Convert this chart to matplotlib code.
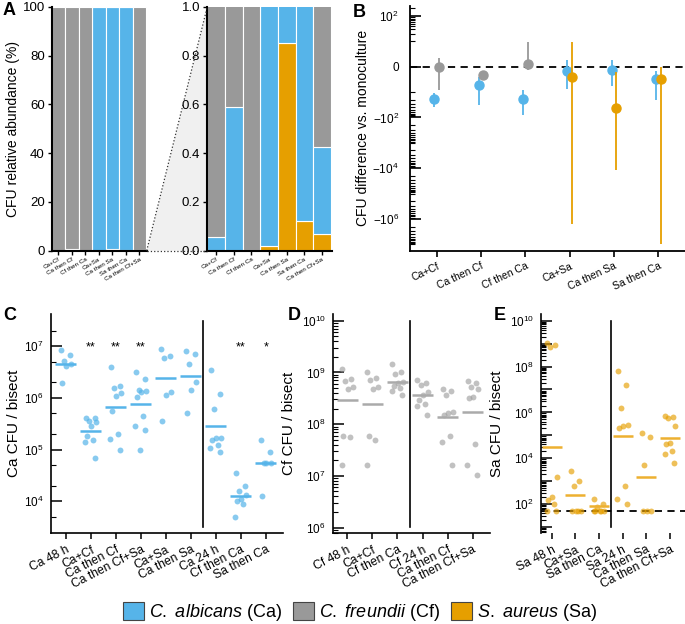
import numpy as np
import matplotlib
matplotlib.use('Agg')
import matplotlib.pyplot as plt
from matplotlib.patches import Patch, Polygon
from matplotlib.lines import Line2D
from matplotlib.ticker import FixedLocator, FuncFormatter, LogLocator, NullFormatter, FixedFormatter

plt.rcParams['font.family'] = ['Liberation Sans', 'DejaVu Sans']
plt.rcParams['mathtext.fontset'] = 'custom'
plt.rcParams['mathtext.rm'] = 'Liberation Sans'
plt.rcParams['mathtext.it'] = 'Liberation Sans:italic'
plt.rcParams['mathtext.bf'] = 'Liberation Sans:bold'

BLUE = '#56B4E9'
GRAY = '#999999'
ORANGE = '#E69F00'

# ---------------- data ----------------
# Panel A : relative abundance (%)
a_categories = ['Ca+Cf', 'Ca then Cf', 'Cf then Ca', 'Ca+Sa', 'Ca then Sa', 'Sa then Ca', 'Ca then Cf+Sa']
a_sa_pct = [0.0, 0.0, 0.0, 0.02, 0.85, 0.12, 0.07]
a_ca_pct = [0.057, 0.59, 0.003, 99.98, 99.15, 99.88, 0.355]
a_cf_pct = [99.943, 99.41, 99.997, 0.0, 0.0, 0.0, 99.575]

# Panel B : CFU difference vs monoculture
b_categories = ['Ca+Cf', 'Ca then Cf', 'Cf then Ca', 'Ca+Sa', 'Ca then Sa', 'Sa then Ca']
b_ca_mid = [-19.5, -7.2, -19.5, -1.6, -1.3, -4.9]
b_ca_lo = [-40, -32, -81, -8.6, -7.6, -21]
b_ca_hi = [-11, -3.9, -9.2, 2.6, 2.6, -1.6]
b_partner = ['Cf', 'Cf', 'Cf', 'Sa', 'Sa', 'Sa']
b_partner_mid = [0.0, -3.3, 1.05, -3.9, -41.6, -5.0]
b_partner_lo = [-9.2, -5.3, -1.3, -1.6e6, -1.2e4, -9.4e6]
b_partner_hi = [3.3, -1.8, 9.8, 9.9, -2.0, 0.0]

# Panel C : Ca CFU / bisect
c_categories = ['Ca 48 h', 'Ca+Cf', 'Ca then Cf', 'Ca then Cf+Sa', 'Ca+Sa', 'Ca then Sa',
                'Ca 24 h', 'Cf then Ca', 'Sa then Ca']
c_values = [
    [8.4e6, 6.7e6, 5.2e6, 4.5e6, 4.2e6, 1.9e6],
    [4e5, 4e5, 3.6e5, 3.4e5, 2.8e5, 1.8e5, 1.55e5, 1.4e5, 7e4],
    [4e6, 1.7e6, 1.55e6, 1.25e6, 1.1e6, 5.6e5, 2e5, 1.6e5, 1e5],
    [3.2e6, 2.3e6, 1.45e6, 1.35e6, 1.3e6, 1.05e6, 4.5e5, 2.8e5, 2.4e5, 1e5],
    [9e6, 6.5e6, 6e6, 1.3e6, 1.15e6, 3.5e5],
    [8e6, 7e6, 4.5e6, 2e6, 1.45e6, 5e5],
    [3.5e6, 1.2e6, 6e5, 1.7e5, 1.65e5, 1.5e5, 1.2e5, 1.05e5, 9e4],
    [3.5e4, 2e4, 1.6e4, 1.3e4, 1.1e4, 1e4, 9e3, 5e3],
    [1.5e5, 9e4, 5.6e4, 5.5e4, 5.4e4, 1.25e4],
]
c_medians = [4.6e6, 2.3e5, 6.7e5, 7.6e5, 2.4e6, 2.6e6, 2.9e5, 1.26e4, 5.6e4]
c_signif = ['', '**', '**', '**', '', '', '', '**', '*']

# Panel D : Cf CFU / bisect
d_categories = ['Cf 48 h', 'Ca+Cf', 'Cf then Ca', 'Cf 24 h', 'Ca then Cf', 'Ca then Cf+Sa']
d_values = [
    [1.15e9, 7.4e8, 6.9e8, 5.2e8, 4.7e8, 5.8e7, 5.6e7, 1.6e7],
    [1e9, 7.7e8, 7.2e8, 5.2e8, 4.7e8, 5.8e7, 5e7, 1.6e7],
    [1.45e9, 1e9, 9.3e8, 6.6e8, 6.2e8, 5.4e8, 5e8, 4.3e8, 3.7e8],
    [7.2e8, 6.2e8, 5.7e8, 4.2e8, 3.7e8, 2.9e8, 2.5e8, 2.2e8, 1.5e8],
    [4.7e8, 4.3e8, 3.6e8, 1.75e8, 1.65e8, 1.5e8, 5.8e7, 4.6e7, 1.6e7],
    [6.9e8, 6.2e8, 5.2e8, 4.7e8, 3.4e8, 3.2e8, 4.2e7, 1.6e7, 1.05e7],
]
d_medians = [2.9e8, 2.5e8, 6.6e8, 3.6e8, 1.35e8, 1.75e8]

# Panel E : Sa CFU / bisect
e_categories = ['Sa 48 h', 'Ca+Sa', 'Sa then Ca', 'Sa 24 h', 'Ca then Sa', 'Ca then Cf+Sa']
e_values = [
    [1.1e9, 9e8, 7e8, 1.5e3, 2e2, 1.5e2, 1e2, 50, 50],
    [2.7e3, 1e3, 6.5e2, 50, 50, 50, 50],
    [1.7e2, 1e2, 72, 50, 50, 50, 50, 50],
    [6.7e7, 1.6e7, 1.5e6, 2.9e5, 2.5e5, 2e5, 6e2, 1.6e2, 1e2],
    [1.3e5, 8.5e4, 5.2e3, 50, 50, 50],
    [6.9e5, 6.3e5, 5.8e5, 2.5e5, 4.7e4, 4.3e4, 2e4, 1.6e4, 6.5e3],
]
e_medians = [3e4, 2.6e2, 82, 9e4, 1.5e3, 7.6e4]
e_detection_limit = 50

# ---------------- figure ----------------
W, H = 685, 624
fig = plt.figure(figsize=(W / 100, H / 100), dpi=100)


def ax_px(l, t, r, b):
    return fig.add_axes([l / W, 1 - b / H, (r - l) / W, (b - t) / H])


def clean(ax, lw=1.2):
    ax.spines['top'].set_visible(False)
    ax.spines['right'].set_visible(False)
    ax.spines['left'].set_linewidth(lw)
    ax.spines['bottom'].set_linewidth(lw)


# ---- Panel A
axA1 = ax_px(51.7, 6.7, 146.7, 250.7)
axA2 = ax_px(207.3, 6.7, 331.7, 250.7)
xa = np.arange(len(a_categories))
sa = np.array(a_sa_pct)
ca = np.array(a_ca_pct)
cf = np.array(a_cf_pct)
for ax in (axA1, axA2):
    ax.bar(xa, sa, width=1.0, color=ORANGE, edgecolor='white', linewidth=0.8)
    ax.bar(xa, ca, bottom=sa, width=1.0, color=BLUE, edgecolor='white', linewidth=0.8)
    ax.bar(xa, cf, bottom=sa + ca, width=1.0, color=GRAY, edgecolor='white', linewidth=0.8)
    ax.set_xlim(-0.5, 6.55)
    ax.set_xticks(xa)
    ax.set_xticklabels(a_categories, rotation=30, ha='right', rotation_mode='anchor', fontsize=4.5)
    ax.tick_params(axis='x', direction='out', length=3, width=1, pad=1.5)
    ax.tick_params(axis='y', direction='out', length=3, width=1, labelsize=9.5, pad=2)
    clean(ax, 1.5)
axA1.set_ylim(0, 100)
axA1.set_yticks([0, 20, 40, 60, 80, 100])
axA2.set_ylim(0, 1)
axA2.set_yticks([0, 0.2, 0.4, 0.6, 0.8, 1.0])
axA2.yaxis.set_major_formatter(FuncFormatter(lambda v, p: f'{v:.1f}'))
axA1.set_ylabel('CFU relative abundance (%)', fontsize=10)
axA1.yaxis.set_label_coords(-0.335, 0.5)

p1 = axA1.get_position()
p2 = axA2.get_position()
tri = Polygon([(p1.x1, p1.y0), (p2.x0, p2.y1), (p2.x0, p2.y0)], closed=True,
              transform=fig.transFigure, facecolor='#f0f0f0', edgecolor='none', zorder=-1)
fig.add_artist(tri)
fig.add_artist(Line2D([p1.x1, p2.x0], [p1.y0, p2.y1], transform=fig.transFigure,
                      ls=':', color='#333333', lw=0.9))
fig.add_artist(Line2D([p1.x1, p2.x0], [p1.y0, p1.y0], transform=fig.transFigure,
                      ls=':', color='#333333', lw=0.9))

# ---- Panel B
axB = ax_px(410, 6, 685, 250.7)
axB.set_yscale('symlog', linthresh=10, linscale=0.9)
axB.set_ylim(-1.8e7, 250)
xb = np.arange(len(b_categories))
axB.set_xlim(-0.6, 5.6)
axB.axhline(0, color='black', lw=1.3, ls=(0, (4, 3)), zorder=0)
mid = np.array(b_ca_mid)
axB.errorbar(xb - 0.05, mid, yerr=[mid - np.array(b_ca_lo), np.array(b_ca_hi) - mid],
             fmt='o', color=BLUE, ms=6.5, elinewidth=1.3, capsize=0, zorder=3)
pmid = np.array(b_partner_mid)
plo = np.array(b_partner_lo)
phi = np.array(b_partner_hi)
for sp, col in (('Cf', GRAY), ('Sa', ORANGE)):
    m = np.array([p == sp for p in b_partner])
    axB.errorbar(xb[m] + 0.05, pmid[m], yerr=[pmid[m] - plo[m], phi[m] - pmid[m]],
                 fmt='o', color=col, ms=6.5, elinewidth=1.3, capsize=0, zorder=4)
b_major = [-1e6, -1e4, -1e2, 0, 1e2]
axB.yaxis.set_major_locator(FixedLocator(b_major))
axB.yaxis.set_major_formatter(FixedFormatter([r'$-10^6$', r'$-10^4$', r'$-10^2$', '0', r'$10^2$']))
minor = []
for n in range(1, 8):
    for k in range(1, 10):
        v = k * 10.0 ** n
        if v <= 250 and v not in b_major:
            minor.append(v)
        if v <= 1.8e7 and -v not in b_major:
            minor.append(-v)
axB.yaxis.set_minor_locator(FixedLocator(minor))
axB.tick_params(axis='y', which='major', direction='in', length=8, width=1.2, labelsize=8.5, pad=8)
axB.tick_params(axis='y', which='minor', direction='in', length=3.5, width=0.8)
axB.set_xticks(xb)
axB.set_xticklabels(b_categories, rotation=25, ha='right', rotation_mode='anchor', fontsize=7.5)
axB.tick_params(axis='x', direction='out', length=4, width=1.2)
axB.set_ylabel('CFU difference vs. monoculture', fontsize=10)
axB.yaxis.set_label_coords(-0.145, 0.5)
clean(axB, 1.3)


# ---- Panels C, D, E
jit = [-0.2, 0.15, -0.08, 0.22, 0.02, -0.15, 0.1, -0.22, 0.18, -0.03]


def log_axis(ax, ylim, subs, every=1):
    ax.set_yscale('log')
    ax.set_ylim(*ylim)
    ax.yaxis.set_major_locator(LogLocator(base=10, numticks=30))
    ax.yaxis.set_minor_locator(LogLocator(base=10, subs=subs, numticks=30))

    def fmt(v, p):
        e = int(round(np.log10(v)))
        if e % every:
            return ''
        return r'$10^{%d}$' % e
    ax.yaxis.set_major_formatter(FuncFormatter(fmt))
    ax.yaxis.set_minor_formatter(NullFormatter())
    ax.tick_params(axis='y', which='major', direction='in', length=8, width=1.1, labelsize=8.5, pad=5)
    ax.tick_params(axis='y', which='minor', direction='in', length=3.5, width=0.8)


def dots(ax, cats, values, medians, color, mcolor, alpha):
    for i, vals in enumerate(values):
        xs = [i + jit[j % len(jit)] for j in range(len(vals))]
        ax.scatter(xs, vals, s=18, color=color, alpha=alpha, linewidths=0, zorder=3)
        ax.hlines(medians[i], i - 0.42, i + 0.42, color=mcolor, lw=1.8, zorder=4)
    ax.set_xticks(range(len(cats)))
    ax.set_xticklabels(cats, rotation=27, ha='right', rotation_mode='anchor', fontsize=8.7)
    ax.tick_params(axis='x', direction='out', length=4, width=1.1)
    clean(ax, 1.2)


axC = ax_px(50.7, 314, 283, 533.3)
log_axis(axC, (2.4e3, 4.2e7), (2.0, 5.0))
dots(axC, c_categories, c_values, c_medians, BLUE, BLUE, 0.7)
axC.set_xlim(-0.61, 8.68)
axC.axvline(5.5, ymin=0.03, ymax=0.97, color='black', lw=1.2)
for i, s in enumerate(c_signif):
    if s:
        axC.text(i, 8.4e6, s, ha='center', va='baseline', fontsize=9)
axC.set_ylabel('Ca CFU / bisect', fontsize=11)
axC.yaxis.set_label_coords(-0.128, 0.5)

axD = ax_px(332.7, 314, 490, 533.3)
log_axis(axD, (10 ** 5.89, 10 ** 10.13), np.arange(2, 10))
dots(axD, d_categories, d_values, d_medians, GRAY, '#aaaaaa', 0.6)
axD.set_xlim(-0.58, 5.69)
axD.axvline(2.5, ymin=0.03, ymax=0.97, color='black', lw=1.2)
axD.set_ylabel('Cf CFU / bisect', fontsize=11)
axD.yaxis.set_label_coords(-0.236, 0.5)

axE = ax_px(540.7, 314, 685, 533.3)
log_axis(axE, (10 ** 0.73, 10 ** 10.29), np.arange(2, 10), every=2)
dots(axE, e_categories, e_values, e_medians, ORANGE, '#EDB030', 0.65)
axE.spines['bottom'].set_visible(False)
axE.set_xlim(-0.47, 5.64)
axE.axvline(2.5, ymin=0.03, ymax=0.97, color='black', lw=1.2)
axE.axhline(e_detection_limit, color='black', lw=1.3, ls=(0, (4, 3)), zorder=2)
axE.set_ylabel('Sa CFU / bisect', fontsize=11)
axE.yaxis.set_label_coords(-0.254, 0.5)

# ---- panel letters
for (x, y, s) in [(3, 2, 'A'), (353, 4, 'B'), (3, 307, 'C'), (288, 307, 'D'), (494, 307, 'E')]:
    fig.text(x / W, 1 - y / H, s, fontsize=13, fontweight='bold', ha='left', va='top')

# ---- legend
handles = [Patch(facecolor=BLUE, edgecolor='#444444', lw=0.8),
           Patch(facecolor=GRAY, edgecolor='#444444', lw=0.8),
           Patch(facecolor=ORANGE, edgecolor='#444444', lw=0.8)]
labels = [r'$\mathit{C.\ albicans}$ (Ca)', r'$\mathit{C.\ freundii}$ (Cf)', r'$\mathit{S.\ aureus}$ (Sa)']
fig.legend(handles, labels, loc='center', bbox_to_anchor=(360 / W, 1 - 612.5 / H), ncol=3,
           frameon=False, fontsize=13, handlelength=1.15, handleheight=1.15,
           handletextpad=0.3, columnspacing=0.6, borderpad=0, borderaxespad=0)

fig.savefig('out.png', dpi=100)
